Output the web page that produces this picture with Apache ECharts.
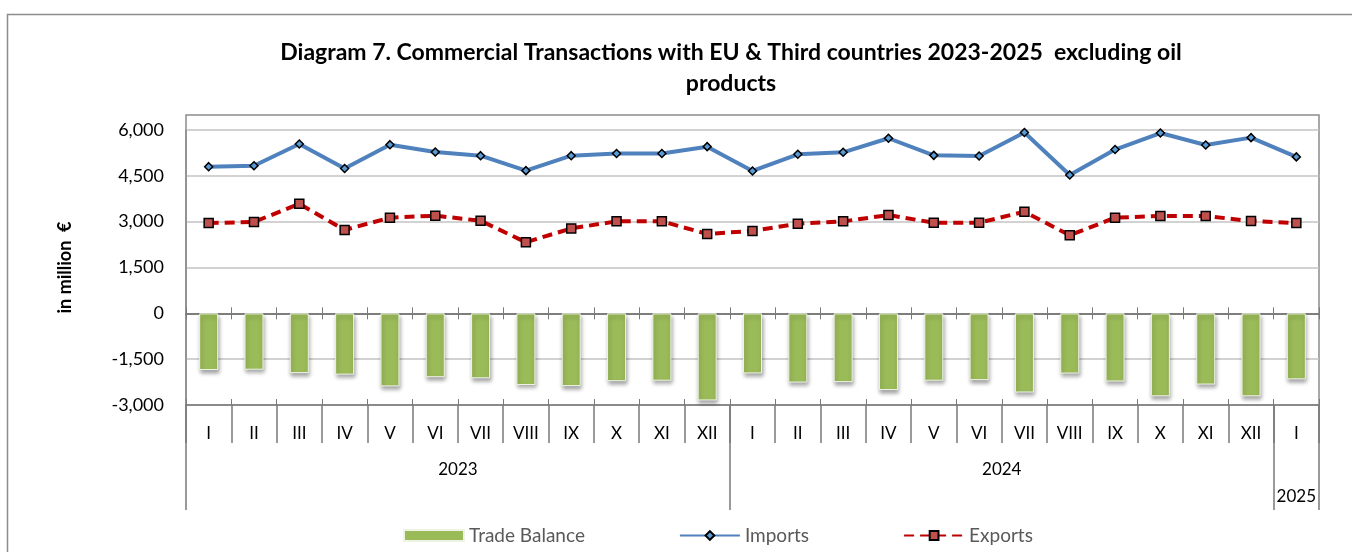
<!DOCTYPE html>
<html>
<head>
<meta charset="utf-8">
<title>Diagram 7</title>
<script src="https://cdn.jsdelivr.net/npm/echarts@6/dist/echarts.min.js"></script>
<style>
    html, body { margin: 0; padding: 0; background: #fff; }
    #chart { width: 1352px; height: 552px; }
</style>
</head>
<body>
<div id="chart"></div>
<script>
    // months of 2023, 2024 and Jan 2025
    var months = ['I','II','III','IV','V','VI','VII','VIII','IX','X','XI','XII',
                  'I','II','III','IV','V','VI','VII','VIII','IX','X','XI','XII',
                  'I'];
    var imports = [4800,4830,5540,4740,5520,5280,5160,4670,5160,5230,5230,5455,
                   4660,5205,5270,5730,5170,5150,5920,4530,5360,5900,5510,5750,
                   5120];
    var exports = [2955,2990,3585,2730,3130,3195,3030,2325,2780,3010,3010,2600,
                   2695,2935,3010,3215,2965,2965,3325,2555,3130,3185,3185,3020,
                   2955];
    var balance = [-1855,-1845,-1955,-2005,-2390,-2090,-2125,-2345,-2380,-2220,-2205,-2850,
                   -1965,-2265,-2250,-2510,-2205,-2185,-2590,-1970,-2230,-2715,-2330,-2715,
                   -2160];
    // year groups: label position (in months) and boundaries
    var yearNames = ['2023','2024','2025'];
    var yearCenters = [6, 18, 24.5];
    var yearBounds = [0, 12, 24, 25];

    var font = 'Lato, "Liberation Sans", sans-serif';
    var axisGrey = '#7a7a7a';

    var chart = echarts.init(document.getElementById('chart'));
    var option = {
        animation: false,
        textStyle: { fontFamily: font },
        title: {
            text: 'Diagram 7. Commercial Transactions with EU & Third countries 2023-2025  excluding oil\nproducts',
            left: 726,
            top: 32,
            textAlign: 'center',
            textStyle: { fontFamily: font, fontSize: 23, fontWeight: 'bold', color: '#000', lineHeight: 31 }
        },
        graphic: [
            { type: 'rect', z: -10, shape: { x: 7.5, y: 14.5, width: 1400, height: 600 },
              style: { fill: 'none', stroke: '#8c8c8c', lineWidth: 1.5 } },
            { type: 'rect', z: -10, shape: { x: 186, y: 115, width: 1133, height: 290 },
              style: { fill: 'none', stroke: '#8c8c8c', lineWidth: 1.5 } }
        ],
        legend: {
            left: 398,
            top: 521,
            itemWidth: 60,
            itemHeight: 11,
            itemGap: 94,
            textStyle: { fontFamily: font, fontSize: 19, color: '#595959' },
            data: [
                { name: 'Trade Balance', icon: 'rect' },
                { name: 'Imports' },
                { name: 'Exports' }
            ]
        },
        grid: { left: 186, right: 33, top: 130, bottom: 147 },
        xAxis: [
            {   // axis line at zero, ticks downward
                type: 'category', data: months, boundaryGap: true,
                axisLine: { onZero: true, onZeroAxisIndex: 0, lineStyle: { color: axisGrey, width: 1.5 } },
                axisTick: { show: true, length: 6, lineStyle: { color: axisGrey } },
                axisLabel: { show: false }
            },
            {   // ticks upward at zero
                type: 'category', data: months, position: 'bottom', boundaryGap: true,
                axisLine: { onZero: true, onZeroAxisIndex: 0, lineStyle: { color: axisGrey, width: 1.5 } },
                axisTick: { show: true, inside: true, length: 6, lineStyle: { color: axisGrey } },
                axisLabel: { show: false }
            },
            {   // month labels at the bottom
                type: 'category', data: months, position: 'bottom', boundaryGap: true,
                axisLine: { onZero: false, lineStyle: { color: axisGrey, width: 1.5 } },
                axisTick: { show: true, length: 38, lineStyle: { color: axisGrey, width: 1.5 } },
                axisLabel: { margin: 20, fontSize: 17, color: '#000', fontFamily: font }
            },
            {   // small upward ticks on the bottom line
                type: 'category', data: months, position: 'bottom', boundaryGap: true,
                axisLine: { onZero: false, show: false },
                axisTick: { show: true, inside: true, length: 6, lineStyle: { color: axisGrey } },
                axisLabel: { show: false }
            },
            {   // year row
                type: 'value', min: 0, max: 25, position: 'bottom',
                axisLine: { onZero: false, show: false },
                splitLine: { show: false },
                axisTick: { show: true, length: 105, customValues: yearBounds,
                            lineStyle: { color: axisGrey, width: 1.5 } },
                axisLabel: {
                    customValues: yearCenters, margin: 56, fontSize: 17, color: '#000', fontFamily: font,
                    formatter: function (v) {
                        var i = yearCenters.indexOf(v);
                        if (i === 2) return '{low|' + yearNames[i] + '}';
                        return yearNames[i];
                    },
                    rich: { low: { fontSize: 17, color: '#000', fontFamily: font, padding: [27, 0, 0, 0] } }
                }
            }
        ],
        yAxis: {
            type: 'value', min: -3000, max: 6000, interval: 1500,
            name: 'in million  €', nameLocation: 'middle', nameGap: 112, nameRotate: 90,
            nameTextStyle: { fontFamily: font, fontSize: 18, fontWeight: 'bold', color: '#000' },
            axisLine: { show: true, lineStyle: { color: '#8c8c8c', width: 1.5 } },
            axisTick: { show: false },
            axisLabel: {
                margin: 22, fontSize: 18, color: '#000', fontFamily: font,
                formatter: function (v) { return v.toLocaleString('en-US'); }
            },
            splitLine: { lineStyle: { color: '#c3c3c3', width: 1.5 } }
        },
        series: [
            {
                name: 'Trade Balance', type: 'bar', data: balance, barWidth: 19,
                itemStyle: {
                    color: '#9bbb59', borderColor: '#eef3e4', borderWidth: 1,
                    shadowBlur: 4, shadowColor: 'rgba(0,0,0,0.35)', shadowOffsetX: 1, shadowOffsetY: 3
                },
                z: 2
            },
            {
                name: 'Imports', type: 'line', data: imports,
                symbol: 'diamond', symbolSize: 8,
                lineStyle: { color: '#4f81bd', width: 4 },
                itemStyle: { color: '#5a9bd5', borderColor: '#000', borderWidth: 1.5 },
                z: 4
            },
            {
                name: 'Exports', type: 'line', data: exports,
                symbol: 'rect', symbolSize: 9,
                lineStyle: { color: '#c00000', width: 4, type: [10, 6] },
                itemStyle: { color: '#c0504d', borderColor: '#000', borderWidth: 1.5 },
                z: 3
            }
        ]
    };
    chart.setOption(option);
</script>
</body>
</html>
